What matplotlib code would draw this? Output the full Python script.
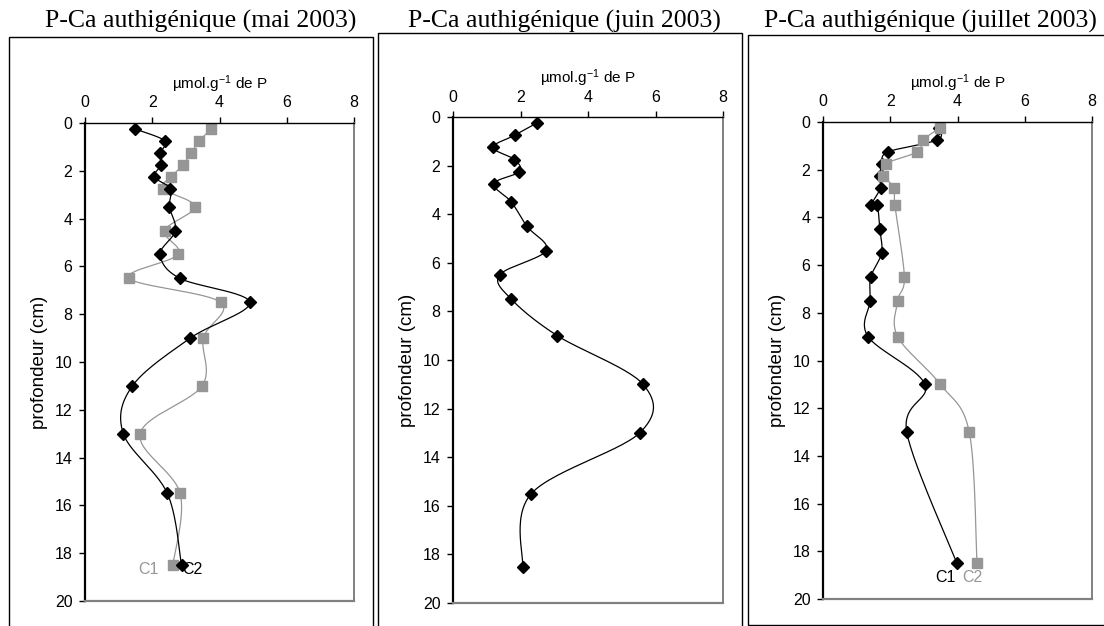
import matplotlib.pyplot as plt
import numpy as np
from matplotlib.patches import Rectangle

plt.rcParams['font.family'] = ['Liberation Sans', 'DejaVu Sans']
plt.rcParams['mathtext.default'] = 'regular'

# depth (cm) and P-Ca values (umol/g)
depth = [0.25, 0.75, 1.25, 1.75, 2.25, 2.75, 3.5, 4.5, 5.5, 6.5, 7.5, 9, 11, 13, 15.5, 18.5]

mai_c1 = [3.75, 3.40, 3.16, 2.92, 2.56, 2.32, 3.27, 2.37, 2.77, 1.31, 4.03, 3.52, 3.48, 1.64, 2.83, 2.61]
mai_c2 = [1.49, 2.38, 2.23, 2.26, 2.06, 2.54, 2.51, 2.69, 2.24, 2.82, 4.90, 3.13, 1.41, 1.14, 2.45, 2.87]

juin = [2.48, 1.83, 1.18, 1.82, 1.97, 1.21, 1.73, 2.19, 2.76, 1.38, 1.73, 3.09, 5.63, 5.53, 2.32, 2.06]

juil_c1_depth = [0.25, 0.75, 1.25, 1.75, 2.25, 2.75, 3.5, 3.5, 4.5, 5.5, 6.5, 7.5, 9, 11, 13, 18.5]
juil_c1 = [3.45, 3.40, 1.94, 1.75, 1.70, 1.72, 1.42, 1.61, 1.69, 1.74, 1.42, 1.40, 1.34, 3.03, 2.49, 3.98]
juil_c2_depth = [0.25, 0.75, 1.25, 1.75, 2.25, 2.75, 3.5, 6.5, 7.5, 9, 11, 13, 18.5]
juil_c2 = [3.48, 2.98, 2.81, 1.86, 1.79, 2.11, 2.14, 2.42, 2.22, 2.22, 3.49, 4.35, 4.58]

titles = ['P-Ca authigénique (mai 2003)', 'P-Ca authigénique (juin 2003)',
          'P-Ca authigénique (juillet 2003)']

W, H = 1104, 626
fig = plt.figure(figsize=(W / 100, H / 100), dpi=100)

BLACK = 'black'
GREY = '#969696'


def px_rect(l, r, t, b):
    return [l / W, 1 - b / H, (r - l) / W, (b - t) / H]


def smooth(x, y, n=30):
    # excel-like smoothed line (bezier through the points), done in screen-ish units
    sx, sy = 269 / 8.0, 478 / 20.0
    p = np.column_stack([np.asarray(x) * sx, np.asarray(y) * sy])
    pts = np.vstack([p[0], p, p[-1]])
    out = []
    t = np.linspace(0, 1, n)[:, None]
    for i in range(1, len(pts) - 2):
        p0, p1, p2, p3 = pts[i - 1], pts[i], pts[i + 1], pts[i + 2]
        c1 = p1 + (p2 - p0) / 6.0
        c2 = p2 - (p3 - p1) / 6.0
        seg = ((1 - t) ** 3) * p1 + 3 * ((1 - t) ** 2) * t * c1 + 3 * (1 - t) * t ** 2 * c2 + t ** 3 * p2
        out.append(seg)
    out = np.vstack(out)
    return out[:, 0] / sx, out[:, 1] / sy


def series(ax, x, y, kind):
    xs, ys = smooth(x, y)
    if kind == 'black':
        ax.plot(xs, ys, color=BLACK, lw=0.9)
        ax.plot(x, y, 'D', color=BLACK, ms=6, mec=BLACK)
    else:
        ax.plot(xs, ys, color=GREY, lw=0.9)
        ax.plot(x, y, 's', color=GREY, ms=7, mec=GREY)


def setup(ax):
    ax.set_xlim(0, 8)
    ax.set_ylim(20, 0)
    ax.xaxis.tick_top()
    ax.xaxis.set_label_position('top')
    ax.set_xticks(range(0, 9, 2))
    ax.set_yticks(range(0, 21, 2))
    ax.tick_params(axis='x', direction='out', length=4, pad=5, labelsize=11.5, width=1)
    ax.tick_params(axis='y', direction='out', length=4, pad=5, labelsize=11.5, width=1)
    ax.spines['top'].set_color(BLACK)
    ax.spines['top'].set_linewidth(1.0)
    ax.spines['left'].set_color(BLACK)
    ax.spines['left'].set_linewidth(1.6)
    ax.spines['right'].set_color('#808080')
    ax.spines['right'].set_linewidth(1.4)
    ax.spines['bottom'].set_color('#808080')
    ax.spines['bottom'].set_linewidth(1.6)
    ax.set_xlabel('µmol.g$^{-1}$ de P', fontsize=11, labelpad=5)
    ax.set_ylabel('profondeur (cm)', fontsize=13.5, labelpad=5)


# outer frames round each chart
boxes = [(9, 373, 37, 650), (378, 742, 33, 650), (748, 1130, 35, 625)]
for l, r, t, b in boxes:
    fig.patches.append(Rectangle((l / W, 1 - b / H), (r - l) / W, (b - t) / H,
                                 transform=fig.transFigure, fill=False, lw=1, ec='black'))

title_x = [201, 564, 930]
for tx, ttl in zip(title_x, titles):
    fig.text(tx / W, 1 - 28 / H, ttl, ha='center', va='baseline',
             family='Liberation Serif', fontsize=18.5)

ax1 = fig.add_axes(px_rect(85, 354, 123, 601))
ax2 = fig.add_axes(px_rect(453, 723, 117, 603))
ax3 = fig.add_axes(px_rect(823, 1092, 122, 599))
for ax in (ax1, ax2, ax3):
    setup(ax)

# mai: C1 grey first, C2 black on top
series(ax1, mai_c1, depth, 'grey')
series(ax1, mai_c2, depth, 'black')
ax1.text(1.58, 18.7, 'C1', color=GREY, fontsize=11.5, va='center', ha='left')
ax1.text(2.89, 18.7, 'C2', color=BLACK, fontsize=11.5, va='center', ha='left')

# juin
series(ax2, juin, depth, 'black')

# juillet: C1 black first, C2 grey on top
series(ax3, juil_c1, juil_c1_depth, 'black')
series(ax3, juil_c2, juil_c2_depth, 'grey')
ax3.text(3.33, 19.08, 'C1', color=BLACK, fontsize=11.5, va='center', ha='left')
ax3.text(4.14, 19.08, 'C2', color=GREY, fontsize=11.5, va='center', ha='left')

fig.savefig('out.png', dpi=100)
